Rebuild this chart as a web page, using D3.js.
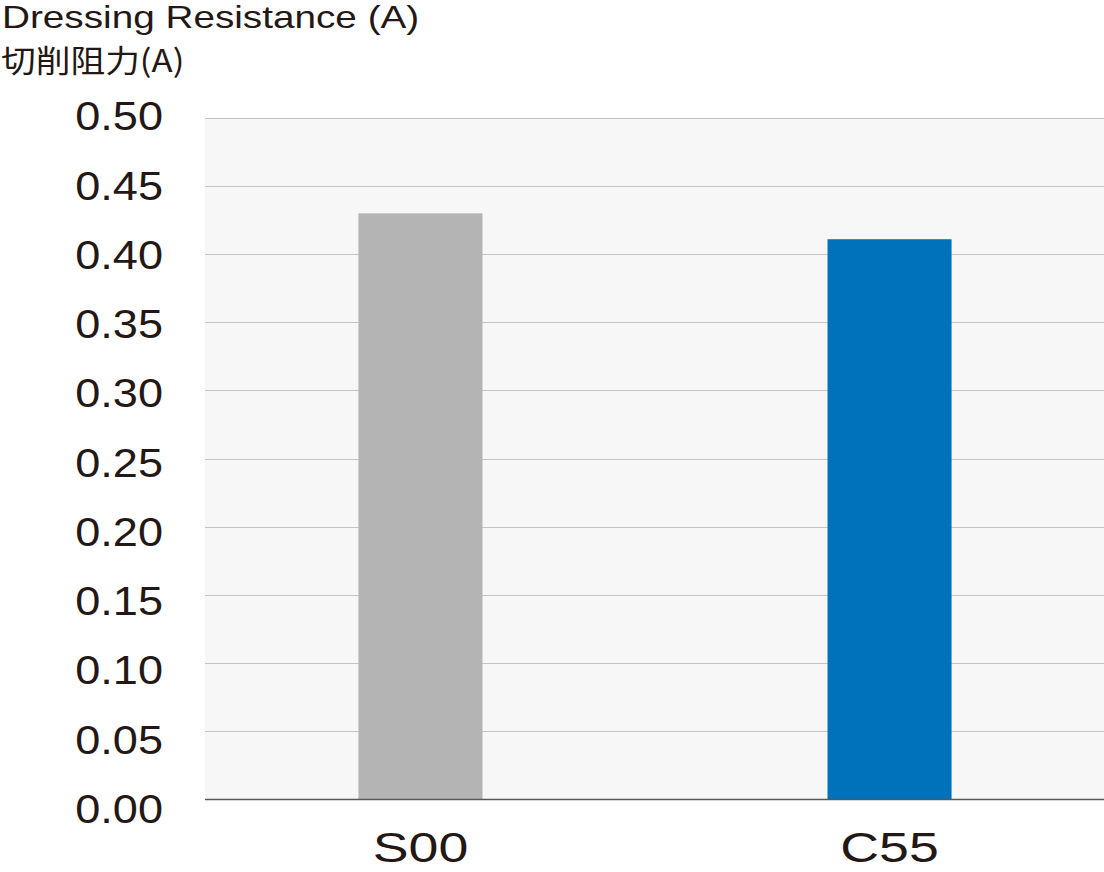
<!DOCTYPE html>
<html>
<head>
<meta charset="utf-8">
<script src="https://cdn.jsdelivr.net/npm/d3@7"></script>
<style>
  html, body { margin: 0; padding: 0; background: #ffffff; }
  svg { display: block; }
</style>
</head>
<body>
<svg id="chart" width="1104" height="872"></svg>
<script>
// ---- data ----
const categories = ["S00", "C55"];
const values = [0.43, 0.411];
const barColors = ["#b4b4b4", "#0071bb"];
const yTicks = [0, 0.05, 0.10, 0.15, 0.20, 0.25, 0.30, 0.35, 0.40, 0.45, 0.50];
const titleLines = ["Dressing Resistance (A)", "切削阻力(A)"];

// ---- layout ----
const svg = d3.select("#chart");
const plot = { left: 205, right: 1104, top: 118, bottom: 799 };
const latin = "'Liberation Sans', Arial, sans-serif";
const ink = "#231815";

const x = d3.scaleBand()
  .domain(categories)
  .range([plot.left + 1, plot.right])
  .paddingInner(0.7356)
  .paddingOuter(0.325);

const y = d3.scaleLinear()
  .domain([0, 0.5])
  .range([plot.bottom, plot.top]);

// label positions in the reference drift slightly from the grid
const yLabel = d3.scaleLinear()
  .domain([0, 0.5])
  .range([808, 115.5]);

// plot background
svg.append("rect")
  .attr("x", plot.left).attr("y", plot.top)
  .attr("width", plot.right - plot.left)
  .attr("height", plot.bottom - plot.top)
  .attr("fill", "#f7f7f7");

// grid lines
svg.append("g")
  .selectAll("line")
  .data(yTicks.filter(d => d > 0))
  .join("line")
  .attr("x1", plot.left).attr("x2", plot.right)
  .attr("y1", d => Math.round(y(d)) + 0.5)
  .attr("y2", d => Math.round(y(d)) + 0.5)
  .attr("stroke", "#c4c4c4")
  .attr("stroke-width", 1);

// bars
svg.append("g")
  .selectAll("rect")
  .data(categories)
  .join("rect")
  .attr("x", d => x(d))
  .attr("width", x.bandwidth())
  .attr("y", (d, i) => y(values[i]))
  .attr("height", (d, i) => y(0) - y(values[i]))
  .attr("fill", (d, i) => barColors[i]);

// baseline
svg.append("line")
  .attr("x1", plot.left).attr("x2", plot.right)
  .attr("y1", y(0) + 0.5).attr("y2", y(0) + 0.5)
  .attr("stroke", "#5a5556")
  .attr("stroke-width", 1.5);

// y tick labels (reference font is wider: stretch horizontally)
svg.append("g")
  .selectAll("text")
  .data(yTicks)
  .join("text")
  .attr("transform", d => `translate(163,${yLabel(d)}) scale(1.1,1)`)
  .attr("dy", "0.36em")
  .attr("text-anchor", "end")
  .attr("font-family", latin)
  .attr("font-size", 41)
  .attr("fill", ink)
  .text(d => d3.format(".2f")(d));

// x labels
svg.append("g")
  .selectAll("text")
  .data(categories)
  .join("text")
  .attr("transform", d => `translate(${x(d) + x.bandwidth() / 2},862) scale(1.28,1)`)
  .attr("text-anchor", "middle")
  .attr("font-family", latin)
  .attr("font-size", 42)
  .attr("fill", ink)
  .text(d => d);

// title
svg.append("text")
  .attr("transform", "translate(2,28) scale(1.21,1)")
  .attr("font-family", latin)
  .attr("font-size", 32)
  .attr("fill", ink)
  .text(titleLines[0]);

svg.append("text")
  .attr("transform", "translate(1,72) scale(1.12,1)")
  .attr("font-family", "'Noto Sans CJK JP', 'Noto Sans CJK SC', sans-serif")
  .attr("font-size", 31)
  .attr("fill", ink)
  .text(titleLines[1]);
</script>
</body>
</html>
